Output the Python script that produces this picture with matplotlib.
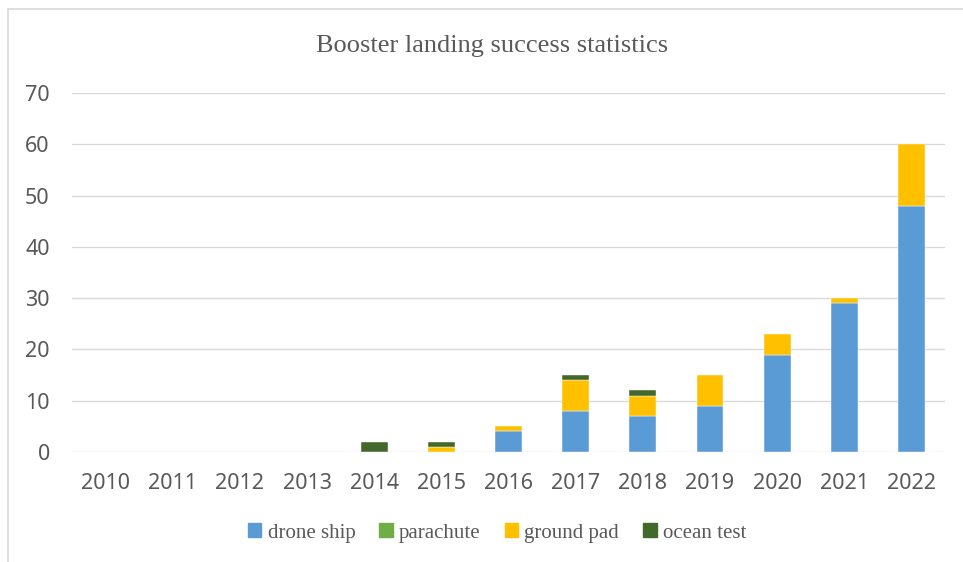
import numpy as np
import matplotlib
matplotlib.use('Agg')
import matplotlib.pyplot as plt
from matplotlib.lines import Line2D

years = ['2010', '2011', '2012', '2013', '2014', '2015', '2016',
         '2017', '2018', '2019', '2020', '2021', '2022']
drone_ship = [0, 0, 0, 0, 0, 0, 4, 8, 7, 9, 19, 29, 48]
parachute = [0, 0, 0, 0, 0, 0, 0, 0, 0, 0, 0, 0, 0]
ground_pad = [0, 0, 0, 0, 0, 1, 1, 6, 4, 6, 4, 1, 12]
ocean_test = [0, 0, 0, 0, 2, 1, 0, 1, 1, 0, 0, 0, 0]

series = [('drone ship', drone_ship, '#5b9bd5'),
          ('parachute', parachute, '#70ad47'),
          ('ground pad', ground_pad, '#ffc000'),
          ('ocean test', ocean_test, '#43682b')]

text_color = '#595959'
fig = plt.figure(figsize=(9.63, 5.62), dpi=100)
ax = fig.add_axes([72 / 963, 1 - 452 / 562, (945 - 72) / 963, (452 - 93) / 562])

x = np.arange(len(years))
bottom = np.zeros(len(years))
handles = []
for name, vals, col in series:
    vals = np.array(vals, dtype=float)
    # white edge only where there is a segment
    lw = [0.3 if v > 0 else 0 for v in vals]
    ax.bar(x, vals, width=0.4, bottom=bottom, color=col,
           edgecolor='white', linewidth=lw, zorder=3)
    bottom += vals
    handles.append(plt.Rectangle((0, 0), 1, 1, color=col, label=name))

ax.set_xlim(-0.5, len(years) - 0.5)
ax.set_ylim(0, 70)
ax.set_yticks(range(0, 71, 10))
ax.set_xticks(x)
ax.set_xticklabels(years)
ax.yaxis.grid(True, color='#d9d9d9', linewidth=1.0, zorder=0)
for s in ax.spines.values():
    s.set_visible(False)
ax.tick_params(axis='both', length=0, labelsize=15.5, colors=text_color)
ax.tick_params(axis='y', pad=16)
ax.tick_params(axis='x', pad=15)
for lab in ax.get_xticklabels() + ax.get_yticklabels():
    lab.set_family('Noto Sans')

fig.text(492 / 963, 1 - 46 / 562, 'Booster landing success statistics',
         ha='center', va='center', fontsize=19, color=text_color,
         family='Liberation Serif')

leg = fig.legend(handles=handles, loc='center', ncol=4,
                 bbox_to_anchor=(497 / 963, 1 - 533 / 562), frameon=False,
                 handlelength=0.65, handleheight=0.65, handletextpad=0.3,
                 columnspacing=1.15,
                 prop={'family': 'Liberation Serif', 'size': 15})
for t in leg.get_texts():
    t.set_color(text_color)

# outer chart frame
fig.add_artist(Line2D([8 / 963, 8 / 963], [0, 1 - 9 / 562], color='#d9d9d9', lw=1.2))
fig.add_artist(Line2D([8 / 963, 1], [1 - 9 / 562, 1 - 9 / 562], color='#d9d9d9', lw=1.2))

fig.savefig('out.png', dpi=100)
